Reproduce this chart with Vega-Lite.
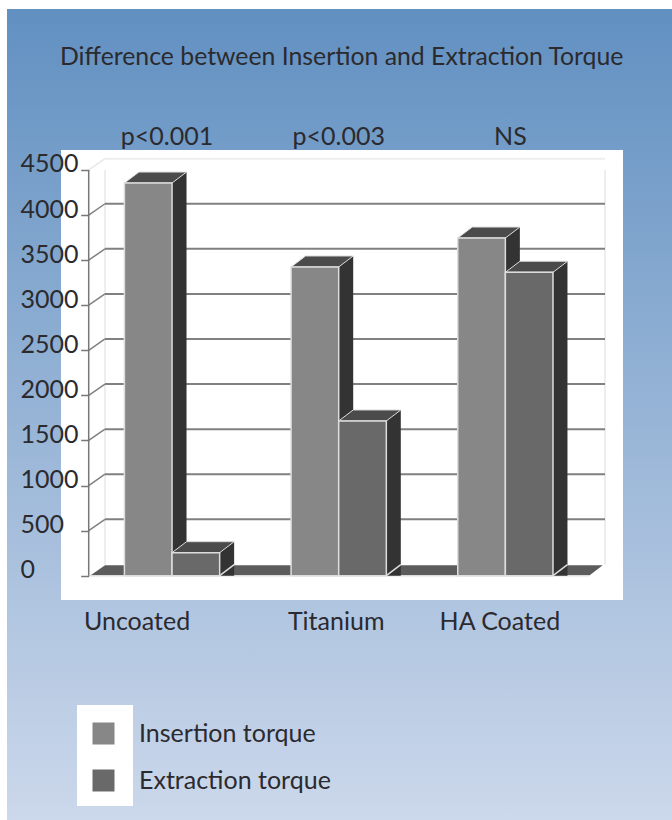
{"$schema":"https://vega.github.io/schema/vega-lite/v6.json","width":665,"height":811,"autosize":"none","padding":{"left":7,"top":9,"right":0,"bottom":0},"background":"white","view":{"stroke":null,"fill":{"gradient":"linear","x1":0,"y1":0,"x2":0,"y2":1,"stops":[{"offset":0,"color":"#6190c1"},{"offset":1,"color":"#ccd8eb"}]}},"title":{"text":"Difference between Insertion and Extraction Torque","font":"Lato","fontSize":24.8,"fontWeight":"normal","color":"#2b2a2e","anchor":"start","frame":"group","dx":53,"offset":-61},"datasets":{"bars":[{"category":"Uncoated","series":"Insertion torque","torque":4355},{"category":"Uncoated","series":"Extraction torque","torque":255},{"category":"Titanium","series":"Insertion torque","torque":3424},{"category":"Titanium","series":"Extraction torque","torque":1716},{"category":"HA Coated","series":"Insertion torque","torque":3745},{"category":"HA Coated","series":"Extraction torque","torque":3365}],"ticks":[{"tick":500},{"tick":1000},{"tick":1500},{"tick":2000},{"tick":2500},{"tick":3000},{"tick":3500},{"tick":4000}],"cats":[{"category":"Uncoated","sig":"p<0.001"},{"category":"Titanium","sig":"p<0.003"},{"category":"HA Coated","sig":"NS"}]},"layer":[{"data":{"values":[{"top":4721,"bottom":-270}]},"mark":{"type":"rect","fill":"white"},"encoding":{"x":{"value":54},"x2":{"value":616},"y":{"field":"top","type":"quantitative","scale":{"domain":[-2710,6285.5],"range":[811,0],"nice":false,"zero":false},"axis":{"values":[0,500,1000,1500,2000,2500,3000,3500,4000,4500],"format":"d","zindex":1,"title":null,"grid":false,"domain":false,"offset":-81.7,"tickSize":8,"tickWidth":1.5,"tickColor":"#777777","labelFont":"Lato","labelFontSize":25,"labelColor":"#2b2a2e","labelAlign":"left","labelPadding":60.7,"labelOffset":-6,"labelBaseline":"middle"}},"y2":{"field":"bottom"}}},{"data":{"values":[{"top":-1434,"bottom":-2554}]},"mark":{"type":"rect","fill":"white"},"encoding":{"x":{"value":70},"x2":{"value":126},"y":{"field":"top","type":"quantitative"},"y2":{"field":"bottom"}}},{"data":{"values":[{"wall":0}]},"mark":{"type":"rule","stroke":"#eeeeee","strokeWidth":2,"xOffset":16.3,"yOffset":-11.3},"encoding":{"x":{"datum":"Uncoated","type":"nominal","bandPosition":0,"scale":{"domain":["Uncoated","Titanium","HA Coated"],"range":[81.7,581.7],"paddingInner":0,"paddingOuter":0},"axis":null},"y":{"datum":0,"type":"quantitative"},"y2":{"datum":4500}}},{"data":{"values":[{"wall":1}]},"mark":{"type":"rule","stroke":"#eeeeee","strokeWidth":2,"xOffset":16.3,"yOffset":-11.3},"encoding":{"x":{"datum":"HA Coated","type":"nominal","bandPosition":1},"y":{"datum":0,"type":"quantitative"},"y2":{"datum":4500}}},{"data":{"name":"ticks"},"mark":{"type":"rule","stroke":"#808080","strokeWidth":2,"xOffset":16.3,"x2Offset":16.3,"yOffset":-11.3},"encoding":{"x":{"datum":"Uncoated","type":"nominal","bandPosition":0},"x2":{"datum":"HA Coated","bandPosition":1},"y":{"field":"tick","type":"quantitative"}}},{"data":{"values":[{"tick":4500}]},"mark":{"type":"rule","stroke":"#eeeeee","strokeWidth":2,"xOffset":16.3,"x2Offset":16.3,"yOffset":-11.3},"encoding":{"x":{"datum":"Uncoated","type":"nominal","bandPosition":0},"x2":{"datum":"HA Coated","bandPosition":1},"y":{"field":"tick","type":"quantitative"}}},{"data":{"name":"ticks"},"mark":{"type":"point","shape":"M0,0L16.3,-11.3","size":4,"stroke":"#808080","strokeWidth":1.5,"opacity":1,"fill":null},"encoding":{"x":{"datum":"Uncoated","type":"nominal","bandPosition":0},"y":{"field":"tick","type":"quantitative"}}},{"data":{"values":[{"tick":4500}]},"mark":{"type":"point","shape":"M0,0L16.3,-11.3","size":4,"stroke":"#e8e8e8","strokeWidth":1.5,"opacity":1,"fill":null},"encoding":{"x":{"datum":"Uncoated","type":"nominal","bandPosition":0},"y":{"field":"tick","type":"quantitative"}}},{"data":{"values":[{"floor":0}]},"mark":{"type":"point","shape":"M2,-0.5L16.3,-10.5L514,-10.5L501,-0.5Z","size":4,"filled":true,"fill":"#5c5c5c","stroke":null,"opacity":1},"encoding":{"x":{"datum":"Uncoated","type":"nominal","bandPosition":0},"y":{"field":"floor","type":"quantitative"}}},{"data":{"values":[{"floor":0}]},"mark":{"type":"rule","stroke":"#dddddd","strokeWidth":1.5},"encoding":{"x":{"datum":"Uncoated","type":"nominal","bandPosition":0},"x2":{"datum":"HA Coated","bandPosition":1},"y":{"field":"floor","type":"quantitative"}}},{"data":{"values":[{"low":0,"high":4500}]},"mark":{"type":"rule","stroke":"#777777","strokeWidth":1.5},"encoding":{"x":{"datum":"Uncoated","type":"nominal","bandPosition":0},"y":{"field":"low","type":"quantitative"},"y2":{"field":"high"}}},{"data":{"name":"bars"},"transform":[{"filter":"datum.series==='Insertion torque'"}],"mark":{"type":"bar","fill":"#333333","width":47.6,"xOffset":-9.3,"yOffset":-11},"encoding":{"x":{"field":"category","type":"nominal"},"y":{"field":"torque","type":"quantitative"},"y2":{"datum":0}}},{"data":{"name":"bars"},"transform":[{"filter":"datum.series==='Extraction torque'"}],"mark":{"type":"bar","fill":"#333333","width":47.6,"xOffset":38.3,"yOffset":-11},"encoding":{"x":{"field":"category","type":"nominal"},"y":{"field":"torque","type":"quantitative"},"y2":{"datum":0}}},{"data":{"name":"bars"},"mark":{"type":"point","shape":"M23.8,0L38.3,-11L23.8,-11Z","size":4,"filled":true,"fill":"#333333","stroke":null,"opacity":1},"encoding":{"x":{"field":"category","type":"nominal"},"xOffset":{"field":"series","type":"nominal","scale":{"domain":["Insertion torque","Extraction torque"],"paddingInner":0,"paddingOuter":0.75}},"y":{"datum":0,"type":"quantitative"}}},{"data":{"name":"bars"},"mark":{"type":"point","shape":"M23.8,0L38.3,-11","size":4,"stroke":"#dddddd","strokeWidth":1.5,"fill":null,"opacity":1},"encoding":{"x":{"field":"category","type":"nominal"},"xOffset":{"field":"series","type":"nominal"},"y":{"datum":0,"type":"quantitative"}}},{"data":{"name":"bars"},"mark":{"type":"point","shape":"M-23.8,0L23.8,0L38.3,-11L-9.3,-11Z","size":4,"filled":true,"fill":"#4b4b4b","stroke":"#dddddd","strokeWidth":1,"opacity":1},"encoding":{"x":{"field":"category","type":"nominal"},"xOffset":{"field":"series","type":"nominal"},"y":{"field":"torque","type":"quantitative"}}},{"data":{"name":"bars"},"mark":{"type":"bar","stroke":"#dddddd","strokeWidth":1.5},"encoding":{"x":{"field":"category","type":"nominal"},"xOffset":{"field":"series","type":"nominal"},"y":{"field":"torque","type":"quantitative"},"y2":{"datum":0},"color":{"field":"series","type":"nominal","scale":{"domain":["Insertion torque","Extraction torque"],"range":["#878787","#696969"]},"legend":{"title":null,"orient":"none","legendX":84,"legendY":712,"symbolType":"square","symbolSize":484,"symbolStrokeWidth":0,"symbolOpacity":1,"labelFont":"Lato","labelFontSize":25,"labelColor":"#2b2a2e","labelOffset":23,"rowPadding":21,"labelLimit":300}}}},{"data":{"name":"cats"},"mark":{"type":"text","font":"Lato","fontSize":25,"color":"#2b2a2e","baseline":"alphabetic","align":"center","dx":{"expr":"datum.category==='Uncoated'?-5:datum.category==='Titanium'?0:5"}},"encoding":{"x":{"field":"category","type":"nominal"},"y":{"datum":4777,"type":"quantitative"},"text":{"field":"sig"}}},{"data":{"name":"cats"},"mark":{"type":"text","font":"Lato","fontSize":25,"color":"#2b2a2e","baseline":"alphabetic","align":"center","dx":{"expr":"datum.category==='Uncoated'?-35:datum.category==='Titanium'?-2.5:-5.5"}},"encoding":{"x":{"field":"category","type":"nominal"},"y":{"datum":-602,"type":"quantitative"},"text":{"field":"category"}}}]}
